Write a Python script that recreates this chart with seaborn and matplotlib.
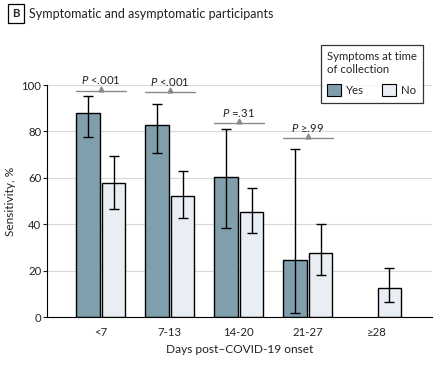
import pandas as pd
import numpy as np
import matplotlib.pyplot as plt
import seaborn as sns
from matplotlib.patches import Patch

# data
days = ['<7', '7-13', '14-20', '21-27', '≥28']
yes_sens = [87.8, 82.6, 60.5, 24.4, np.nan]
yes_lo = [77.7, 70.5, 38.2, 1.6, np.nan]
yes_hi = [95.2, 91.9, 81.2, 72.3, np.nan]
no_sens = [57.6, 52.0, 45.4, 27.4, 12.4]
no_lo = [46.4, 42.5, 36.1, 18.0, 6.3]
no_hi = [69.5, 62.8, 55.7, 40.0, 21.3]
p_labels = ['<.001', '<.001', '=.31', '≥.99']
p_heights = [97.6, 96.8, 83.5, 77.0]

yes_color = '#7f9fad'
no_color = '#e8eef3'

sns.set_style('white')
plt.rcParams['font.family'] = ['Lato', 'DejaVu Sans']
plt.rcParams['mathtext.fontset'] = 'custom'
plt.rcParams['mathtext.it'] = 'Lato:italic'
plt.rcParams['mathtext.rm'] = 'Lato'

df = pd.DataFrame({
    'Days': days * 2,
    'Symptoms': ['Yes'] * 5 + ['No'] * 5,
    'Sensitivity': yes_sens + no_sens,
    'lo': yes_lo + no_lo,
    'hi': yes_hi + no_hi,
})

fig = plt.figure(figsize=(4.45, 3.67), dpi=100)
ax = fig.add_axes([0.1056, 0.1362, 0.865, 0.632])

width = 0.74
sns.barplot(data=df, x='Days', y='Sensitivity', hue='Symptoms', order=days,
            hue_order=['Yes', 'No'], palette=[yes_color, no_color], saturation=1,
            width=width, gap=0.08, edgecolor='black', linewidth=1,
            errorbar=None, legend=False, ax=ax)

# confidence intervals
for k, grp in enumerate(['Yes', 'No']):
    sub = df[df['Symptoms'] == grp].reset_index(drop=True)
    xs = np.arange(len(days)) + (k - 0.5) * width / 2
    ok = sub['Sensitivity'].notna()
    ax.errorbar(xs[ok], sub['Sensitivity'][ok],
                yerr=[sub['Sensitivity'][ok] - sub['lo'][ok], sub['hi'][ok] - sub['Sensitivity'][ok]],
                fmt='none', ecolor='black', elinewidth=1, capsize=3.5, capthick=1, zorder=5)

# P value brackets
for i, (lab, h) in enumerate(zip(p_labels, p_heights)):
    ax.plot([i - width / 2 + 0.01, i + width / 2 - 0.01], [h, h], color='#8a8a8a', lw=1, clip_on=False)
    ax.plot([i], [h + 0.9], marker='^', color='#8a8a8a', ms=3.5, clip_on=False)
    ax.text(i, h + 2.0, '$P$ ' + lab, ha='center', va='bottom', fontsize=8.2, color='#222222')

ax.set_ylim(0, 100)
ax.set_xlim(-0.78, 4.8)
ax.set_yticks([0, 20, 40, 60, 80, 100])
ax.yaxis.grid(True, color='#d9d9d9', lw=0.8)
ax.set_axisbelow(True)
sns.despine(ax=ax)
ax.spines['left'].set_color('black')
ax.spines['bottom'].set_color('black')
ax.tick_params(axis='y', left=True, length=3, width=0.8, labelsize=8.2, pad=1, colors='#222222')
ax.tick_params(axis='x', bottom=False, labelsize=8.2, pad=4, colors='#222222')
ax.set_xlabel('Days post–COVID-19 onset', fontsize=8.6, labelpad=4, color='#222222')
ax.set_ylabel('Sensitivity, %', fontsize=8.6, labelpad=4, color='#222222')

handles = [Patch(facecolor=yes_color, edgecolor='black', lw=0.8),
           Patch(facecolor=no_color, edgecolor='black', lw=0.8)]
leg = fig.legend(handles, ['Yes', 'No'], title='Symptoms at time\nof collection',
                 ncol=2, loc='upper left', bbox_to_anchor=(0.721, 0.877), borderaxespad=0,
                 fontsize=8.2, title_fontsize=8.2, frameon=True, fancybox=False,
                 edgecolor='black', handlelength=1.25, handleheight=1.25,
                 handletextpad=0.45, columnspacing=1.5, borderpad=0.55, labelspacing=0.8)
leg._legend_box.align = 'left'
leg.get_frame().set_linewidth(0.9)

# panel label
fig.text(0.036, 0.963, 'B', fontsize=8.2, fontweight='bold', ha='center', va='center',
         bbox=dict(boxstyle='square,pad=0.35', facecolor='white', edgecolor='black', lw=0.9))
fig.text(0.066, 0.963, 'Symptomatic and asymptomatic participants', fontsize=9,
         ha='left', va='center', color='#222222')

plt.savefig('out.png', dpi=100)
